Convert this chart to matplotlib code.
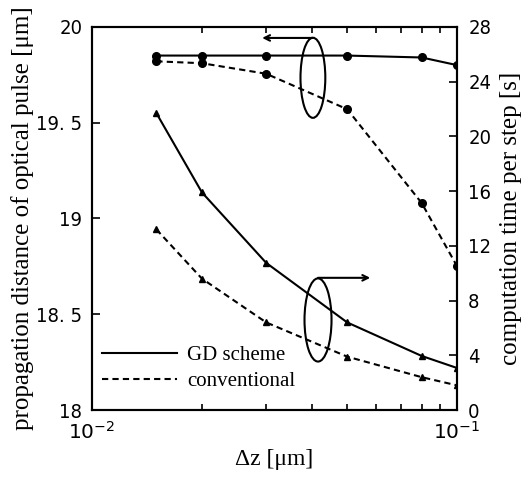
import matplotlib
matplotlib.use("Agg")
import matplotlib.pyplot as plt
from matplotlib.lines import Line2D
from matplotlib.patches import Ellipse
from matplotlib.ticker import FixedLocator, FixedFormatter, NullFormatter

# data
dz = [0.015, 0.02, 0.03, 0.05, 0.08, 0.1]
dist_gd = [19.85, 19.85, 19.85, 19.85, 19.84, 19.80]
dist_conv = [19.82, 19.81, 19.755, 19.57, 19.08, 18.75]
time_gd = [21.7, 15.9, 10.75, 6.4, 3.95, 3.07]
time_conv = [13.2, 9.6, 6.4, 3.9, 2.4, 1.8]

left_ticks = [18, 18.5, 19, 19.5, 20]
left_labels = ["18", "18. 5", "19", "19. 5", "20"]
right_ticks = [0, 4, 8, 12, 16, 20, 24, 28]

tick_font = ["DejaVu Sans"]
label_font = ["Liberation Serif", "DejaVu Serif"]

fig = plt.figure(figsize=(5.26, 4.79), dpi=100)
ax = fig.add_axes([0.175, 0.144, 0.694, 0.80])
ax2 = ax.twinx()

dash = (0, (3, 2))
ax.plot(dz, dist_gd, "k-", lw=1.5, marker="o", ms=5.5)
ax.plot(dz, dist_conv, "k", ls=dash, lw=1.5, marker="o", ms=5.5)
ax2.plot(dz, time_gd, "k-", lw=1.5, marker="^", ms=5)
ax2.plot(dz, time_conv, "k", ls=dash, lw=1.5, marker="^", ms=5)

ax.set_xscale("log")
ax.set_xlim(0.01, 0.1)
ax.set_ylim(18, 20)
ax2.set_ylim(0, 28)

ax.xaxis.set_major_locator(FixedLocator([0.01, 0.1]))
ax.xaxis.set_major_formatter(FixedFormatter(["$10^{-2}$", "$10^{-1}$"]))
ax.xaxis.set_minor_formatter(NullFormatter())
ax.yaxis.set_major_locator(FixedLocator(left_ticks))
ax.yaxis.set_major_formatter(FixedFormatter(left_labels))
ax2.set_yticks(right_ticks)

ax.tick_params(axis="x", which="both", direction="in", top=True, length=5, width=1.2)
ax.tick_params(axis="x", which="minor", length=4)
ax.tick_params(axis="x", which="major", pad=8)
ax.tick_params(axis="y", direction="in", length=6, width=1.2, pad=7)
ax2.tick_params(axis="y", direction="in", length=6, width=1.2, pad=8)

for a in (ax, ax2):
    for s in a.spines.values():
        s.set_linewidth(1.5)
    for lab in a.get_xticklabels() + a.get_yticklabels():
        lab.set_family(tick_font)
        lab.set_stretch("condensed")
        lab.set_fontsize(14.5)

ax.set_xlabel("Δz [μm]", family=label_font, fontsize=17, labelpad=4)
ax.set_ylabel("propagation distance of optical pulse [μm]", family=label_font, fontsize=18)
ax.yaxis.set_label_coords(-0.16, 0.5)
ax2.set_ylabel("computation time per step [s]", family=label_font, fontsize=18, labelpad=6)

# ellipses and arrows
ax.add_patch(Ellipse((0.605, 0.867), 0.068, 0.209, transform=ax.transAxes,
                     fill=False, lw=1.5, ec="k"))
ax.annotate("", xy=(0.466, 0.971), xytext=(0.605, 0.971), xycoords="axes fraction",
            arrowprops=dict(arrowstyle="->", lw=1.5, color="k", shrinkA=0, shrinkB=0))
ax.add_patch(Ellipse((0.619, 0.235), 0.074, 0.217, transform=ax.transAxes,
                     fill=False, lw=1.5, ec="k"))
ax.annotate("", xy=(0.762, 0.345), xytext=(0.619, 0.345), xycoords="axes fraction",
            arrowprops=dict(arrowstyle="->", lw=1.5, color="k", shrinkA=0, shrinkB=0))

handles = [Line2D([], [], color="k", lw=1.5), Line2D([], [], color="k", lw=1.5, ls=dash)]
ax.legend(handles, ["GD scheme", "conventional"], loc="lower left", frameon=False,
          prop={"family": label_font, "size": 15}, handlelength=3.6, handletextpad=0.5,
          labelspacing=0.3, bbox_to_anchor=(-0.025, 0.0))

fig.savefig("out.png", dpi=100)
